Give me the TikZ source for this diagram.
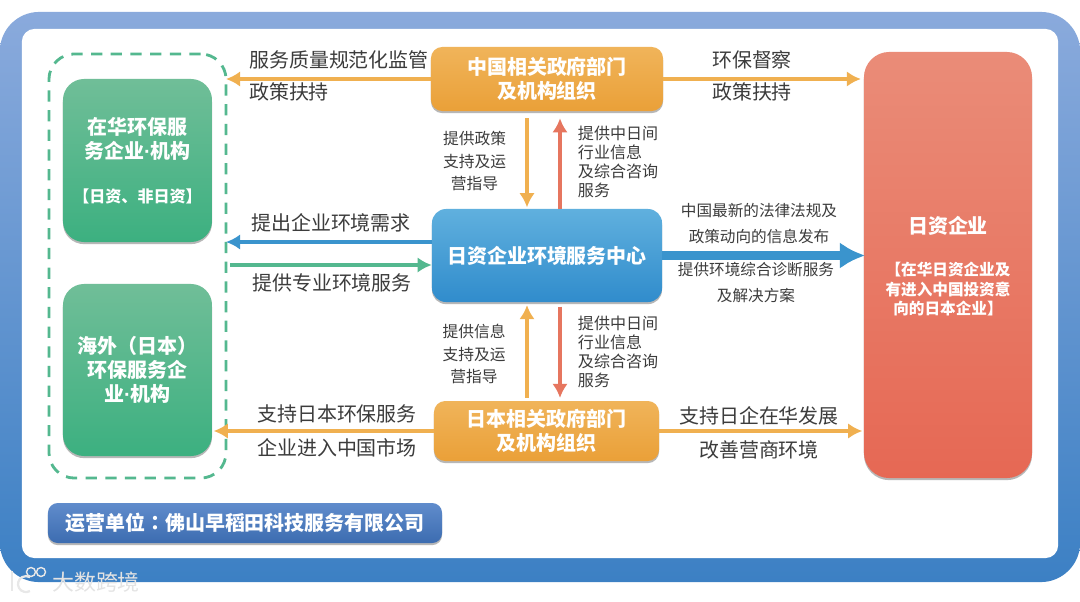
\documentclass[tikz,border=0pt]{standalone}
\usepackage{fontspec}
\setmainfont{Noto Sans CJK SC}
\newfontfamily\tcfont{Noto Sans CJK TC}
\newfontfamily\dotfont{Liberation Sans}
\usepackage{xcolor}
\usetikzlibrary{arrows.meta,shadows}
\definecolor{frame_top}{RGB}{138,170,220}
\definecolor{frame_low}{RGB}{60,128,196}
\definecolor{leaf_top}{RGB}{112,190,152}
\definecolor{leaf_low}{RGB}{60,176,128}
\definecolor{gold_top}{RGB}{240,180,90}
\definecolor{gold_low}{RGB}{234,160,56}
\definecolor{sky_top}{RGB}{96,176,222}
\definecolor{sky_low}{RGB}{48,140,204}
\definecolor{coral_top}{RGB}{234,140,120}
\definecolor{coral_low}{RGB}{230,104,84}
\definecolor{navy_top}{RGB}{96,140,204}
\definecolor{navy_low}{RGB}{60,108,176}
\definecolor{line_gold}{RGB}{240,176,80}
\definecolor{line_sky}{RGB}{58,148,205}
\definecolor{line_leaf}{RGB}{84,184,143}
\definecolor{line_coral}{RGB}{230,118,95}
\definecolor{ink}{RGB}{60,60,60}
\tikzset{
  boxbase/.style={rounded corners=#1, inner sep=0pt, align=center, text=white,
    font=\fontsize{14.2pt}{17pt}\selectfont\bfseries,
    drop shadow={shadow xshift=0pt, shadow yshift=-1.5pt, opacity=0.4, fill=black!70}},
  leafbox/.style={boxbase=15pt, top color=leaf_top, bottom color=leaf_low, minimum width=3.725cm},
  goldbox/.style={boxbase=8pt, top color=gold_top, bottom color=gold_low},
  bigtext/.style={text=ink, font=\fontsize{14.2pt}{17pt}\selectfont},
  smalltext/.style={text=ink, align=center, font=\fontsize{11.2pt}{16pt}\selectfont},
  tighttext/.style={text=ink, align=left, font=\fontsize{11.4pt}{13.4pt}\selectfont},
  arrowgold/.style={draw=line_gold, line width=3pt, -{Latex[length=10pt,width=11pt]}},
  arrowcoral/.style={draw=line_coral, line width=3pt, -{Latex[length=10pt,width=11pt]}},
  markline/.style={draw=white!82!gray, line width=1.6pt}
}
\begin{document}
\begin{tikzpicture}[x=0.025cm, y=-0.025cm]
  \useasboundingbox (0,0) rectangle (1080,601);
  % frame
  \node[rounded corners=28pt, top color=frame_top, bottom color=frame_low, minimum width=27cm, minimum height=14.25cm, inner sep=0pt] (frame) at (540,297) {};
  \node[rounded corners=9pt, fill=white, minimum width=25.9cm, minimum height=13.225cm, inner sep=0pt] (sheet) at (540,293.5) {};
  \node[rounded corners=18pt, draw=line_leaf, line width=2pt, dash pattern=on 8pt off 6pt, minimum width=4.425cm, minimum height=10.6cm, inner sep=0pt, outer sep=0pt] (hostwall) at (137.5,266) {};

  % boxes
  \node[leafbox, minimum height=4.075cm] (hostcn) at (137.5,160.5) {在华环保服\\务企业{\dotfont·}机构\\[14pt]{\fontsize{11.4pt}{14pt}\selectfont 【日资、非日资】}};
  \node[leafbox, minimum height=4.3cm] (hostjp) at (137.5,370) {海外{\tcfont（}日本{\tcfont）}\\环保服务企\\业{\dotfont·}机构};
  \node[goldbox, minimum width=5.8cm, minimum height=1.6cm] (chinagov) at (547,79) {中国相关政府部门\\及机构组织};
  \node[goldbox, minimum width=5.625cm, minimum height=1.5cm] (japangov) at (546.5,431) {日本相关政府部门\\及机构组织};
  \node[boxbase=10pt, top color=sky_top, bottom color=sky_low, minimum width=5.75cm, minimum height=2.325cm] (center) at (547,255.5) {日资企业环境服务中心};
  \node[boxbase=18pt, top color=coral_top, bottom color=coral_low, minimum width=4.2cm, minimum height=10.65cm] (firm) at (948,265) {};
  \node[text=white, align=center, font=\fontsize{14.2pt}{17pt}\selectfont\bfseries] (firmname) at (948,226) {日资企业};
  \node[text=white, align=center, font=\fontsize{11.1pt}{13.6pt}\selectfont\bfseries] (firmnote) at (948,289) {【在华日资企业及\\有进入中国投资意\\向的日本企业】};
  \node[boxbase=7pt, top color=navy_top, bottom color=navy_low, minimum width=9.85cm, minimum height=1cm] (operator) at (245,523) {运营单位{\tcfont：}佛山早稻田科技服务有限公司};

  % guides for the free ends
  \coordinate (upleft) at (527,0);
  \coordinate (upright) at (560,0);
  \coordinate (needrow) at (0,242);
  \coordinate (giverow) at (0,265);

  % connectors
  \draw[arrowgold] (chinagov.west) -- (hostwall.east |- chinagov.west);
  \draw[arrowgold] (chinagov.east) -- ([xshift=-2pt]firm.west |- chinagov.east);
  \draw[arrowgold] ([yshift=-5pt]upleft |- chinagov.south) -- ([yshift=1pt]upleft |- center.north);
  \draw[arrowcoral] (upright |- center.north) -- ([yshift=-5pt]upright |- chinagov.south);
  \draw[draw=line_sky, line width=3pt, -{Latex[length=10pt,width=11pt]}] (center.west |- needrow) -- (hostwall.east |- needrow);
  \draw[draw=line_leaf, line width=3pt, -{Latex[length=10pt,width=11pt]}] ([xshift=3pt]hostwall.east |- giverow) -- (center.west |- giverow);
  \draw[draw=line_sky, line width=7pt, -{Latex[length=18pt,width=19pt]}] (center.east) -- ([xshift=1pt]firm.west |- center.east);
  \draw[arrowgold] ([yshift=2pt]upleft |- japangov.north) -- ([yshift=-2pt]upleft |- center.south);
  \draw[arrowcoral] ([yshift=-3pt]upright |- center.south) -- ([yshift=2pt]upright |- japangov.north);
  \draw[arrowgold] (japangov.west) -- ([xshift=1pt]hostjp.east |- japangov.west);
  \draw[arrowgold] (japangov.east) -- ([xshift=-1pt]firm.west |- japangov.east);

  % labels
  \node[bigtext] (supervise) at (339,60) {服务质量规范化监管};
  \node[bigtext] (policyl) at (289,92) {政策扶持};
  \node[bigtext] (inspect) at (752,60) {环保督察};
  \node[bigtext] (policyr) at (752,92) {政策扶持};
  \node[bigtext] (need) at (331,223) {提出企业环境需求};
  \node[bigtext] (give) at (332,283) {提供专业环境服务};
  \node[bigtext] (enterone) at (337,414) {支持日本环保服务};
  \node[bigtext] (entertwo) at (337,448) {企业进入中国市场};
  \node[bigtext] (growone) at (759,416) {支持日企在华发展};
  \node[bigtext] (growtwo) at (759,450) {改善营商环境};
  \node[smalltext] (guideup) at (474.5,161) {提供政策\\支持及运\\营指导};
  \node[smalltext] (guidelow) at (474,354) {提供信息\\支持及运\\营指导};
  \node[tighttext, anchor=west] (infoup) at (573,162) {提供中日间\\行业信息\\及综合咨询\\服务};
  \node[tighttext, anchor=west] (infolow) at (573,352) {提供中日间\\行业信息\\及综合咨询\\服务};
  \node[smalltext, font=\fontsize{11.1pt}{18.5pt}\selectfont] (lawnews) at (759,224) {中国最新的法律法规及\\政策动向的信息发布};
  \node[smalltext, font=\fontsize{11.1pt}{18.5pt}\selectfont] (diagnose) at (756,282.5) {提供环境综合诊断服务\\及解决方案};

  % watermark
  \draw[markline] (12,571) -- (12,591);
  \draw[markline] (30,591) arc (60:300:8);
  \draw[markline, line width=1pt] (31,572) circle (4.5);
  \draw[markline, line width=1pt] (41,572) circle (4.5);
  \node[text=white!78!gray, font=\fontsize{15.6pt}{18pt}\selectfont] (mark) at (96,582) {大数跨境};
\end{tikzpicture}
\end{document}
